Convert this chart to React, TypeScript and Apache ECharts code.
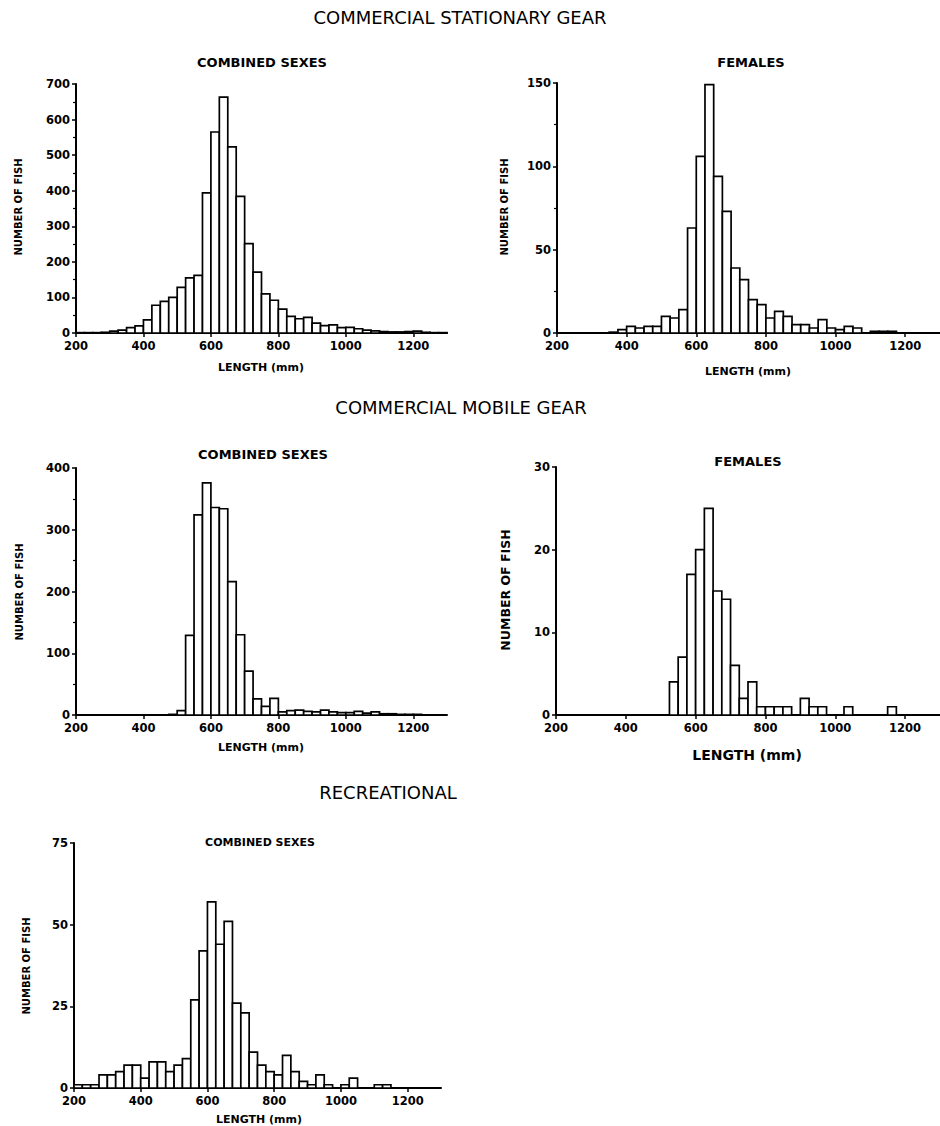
import React, { useEffect, useRef } from "react";
import * as echarts from "echarts";

// Lower bound (mm) of each 25-mm length class
const binStarts = [
  200, 225, 250, 275, 300, 325, 350, 375, 400, 425, 450, 475, 500, 525, 550, 575,
  600, 625, 650, 675, 700, 725, 750, 775, 800, 825, 850, 875, 900, 925, 950, 975,
  1000, 1025, 1050, 1075, 1100, 1125, 1150, 1175, 1200, 1225, 1250, 1275,
];
const binWidth = 25;

const stationaryCombined = [
  1, 1, 1, 2, 5, 8, 15, 20, 37, 78, 89, 100, 128, 155, 162, 394,
  565, 663, 523, 384, 251, 171, 110, 92, 67, 47, 40, 44, 28, 21, 23, 15,
  16, 12, 8, 6, 4, 3, 3, 4, 5, 2, 1, 1,
];
const stationaryFemales = [
  0, 0, 0, 0, 0, 0, 0.5, 2, 4, 3, 4, 4, 10, 9, 14, 63,
  106, 149, 94, 73, 39, 32, 20, 17, 9, 13, 10, 5, 5, 3, 8, 3,
  2, 4, 3, 0, 1, 1, 1, 0, 0, 0, 0, 0,
];
const mobileCombined = [
  0, 0, 0, 0, 0, 0, 0, 0, 0, 0, 0, 1, 7, 129, 324, 376,
  336, 334, 216, 130, 71, 26, 14, 27, 5, 7, 8, 6, 5, 8, 5, 4,
  4, 6, 3, 5, 2, 2, 1, 1, 1, 0, 0, 0,
];
const mobileFemales = [
  0, 0, 0, 0, 0, 0, 0, 0, 0, 0, 0, 0, 0, 4, 7, 17,
  20, 25, 15, 14, 6, 2, 4, 1, 1, 1, 1, 0, 2, 1, 1, 0,
  0, 1, 0, 0, 0, 0, 1, 0, 0, 0, 0, 0,
];
const recreationalCombined = [
  1, 1, 1, 4, 4, 5, 7, 7, 3, 8, 8, 5, 7, 9, 27, 42,
  57, 44, 51, 26, 23, 11, 7, 5, 4, 10, 5, 2, 1, 4, 1, 0,
  1, 3, 0, 0, 1, 1, 0, 0, 0, 0, 0, 0,
];

const yMaxes = [700, 150, 400, 30, 75];
const yIntervals = [100, 50, 100, 10, 25];
const sectionTitles = ["COMMERCIAL STATIONARY GEAR", "COMMERCIAL MOBILE GEAR", "RECREATIONAL"];
const panelTitles = ["COMBINED SEXES", "FEMALES", "COMBINED SEXES", "FEMALES", "COMBINED SEXES"];
const xName = "LENGTH (mm)";
const yName = "NUMBER OF FISH";

const allSeries = [stationaryCombined, stationaryFemales, mobileCombined, mobileFemales, recreationalCombined];

// layout (px)
const grids = [
  { left: 76, top: 84, width: 371, height: 249 },
  { left: 557, top: 83, width: 386, height: 250 },
  { left: 76, top: 468, width: 371, height: 247 },
  { left: 556, top: 467, width: 404, height: 248 },
  { left: 74, top: 843, width: 367, height: 245 },
];
const minorSplits = [2, 2, 2, 0, 0];

const FONT = "'DejaVu Sans', sans-serif";

export default function App() {
  const ref = useRef<HTMLDivElement>(null);
  useEffect(() => {
    if (!ref.current) return;
    const chart = echarts.init(ref.current, null, { renderer: "svg" });

    const xAxis = grids.map((_, i) => ({
      type: "value",
      gridIndex: i,
      min: 200,
      max: 1300,
      interval: 200,
      axisLine: { show: true, onZero: false, lineStyle: { color: "#000", width: 2 } },
      axisTick: { show: true, length: 4, lineStyle: { color: "#000", width: 1.5 } },
      axisLabel: {
        show: true,
        color: "#000",
        fontFamily: FONT,
        fontWeight: "bold",
        fontSize: 11.5,
        margin: 7,
        showMaxLabel: false,
        formatter: (v: number) => (v > 1200 ? "" : String(v)),
      },
      splitLine: { show: false },
    }));

    const yAxis = grids.map((_, i) => ({
      type: "value",
      gridIndex: i,
      min: 0,
      max: yMaxes[i],
      interval: yIntervals[i],
      axisLine: { show: true, lineStyle: { color: "#000", width: 2 } },
      axisTick: { show: true, length: 4, lineStyle: { color: "#000", width: 1.5 } },
      minorTick: {
        show: minorSplits[i] > 0,
        splitNumber: minorSplits[i] || 2,
        length: 3,
        lineStyle: { color: "#000", width: 1.2 },
      },
      axisLabel: {
        show: true,
        color: "#000",
        fontFamily: FONT,
        fontWeight: "bold",
        fontSize: 11.5,
        margin: 6,
      },
      splitLine: { show: false },
    }));

    const series = allSeries.map((vals, i) => ({
      type: "custom",
      xAxisIndex: i,
      yAxisIndex: i,
      encode: { x: [0, 1], y: 2 },
      data: vals.map((v, k) => [binStarts[k], binStarts[k] + binWidth, v]),
      renderItem: (params: any, api: any) => {
        const x0 = api.value(0);
        const x1 = api.value(1);
        const v = api.value(2);
        if (!v) return null;
        const p0 = api.coord([x0, v]);
        const p1 = api.coord([x1, 0]);
        return {
          type: "rect",
          shape: { x: p0[0], y: p0[1], width: p1[0] - p0[0], height: p1[1] - p0[1] },
          style: { fill: "#fff", stroke: "#000", lineWidth: 1.7 },
        };
      },
    }));

    const txt = (text: string, x: number, y: number, size: number, bold: boolean, rot = 0) => ({
      type: "text",
      x,
      y,
      rotation: rot,
      style: {
        text,
        fill: "#000",
        font: `${bold ? "bold " : ""}${size}px ${FONT}`,
        textAlign: "center",
        textVerticalAlign: "middle",
      },
      z: 10,
    });

    const graphic = [
      txt(sectionTitles[0], 460, 17, 18, false),
      txt(sectionTitles[1], 461, 407, 18, false),
      txt(sectionTitles[2], 388, 792, 18, false),
      txt(panelTitles[0], 262, 62, 13, true),
      txt(panelTitles[1], 751, 62, 13, true),
      txt(panelTitles[2], 263, 454, 13, true),
      txt(panelTitles[3], 748, 461, 13, true),
      txt(panelTitles[4], 260, 842, 11, true),
      txt(yName, 18, 207, 10, true, Math.PI / 2),
      txt(yName, 504, 207, 10, true, Math.PI / 2),
      txt(yName, 19, 592, 10, true, Math.PI / 2),
      txt(yName, 505, 590, 12.5, true, Math.PI / 2),
      txt(yName, 26, 966, 10, true, Math.PI / 2),
      txt(xName, 261, 367, 11, true),
      txt(xName, 748, 371, 11, true),
      txt(xName, 261, 747, 11, true),
      txt(xName, 747, 755, 14, true),
      txt(xName, 259, 1119, 11, true),
    ];

    chart.setOption({
      animation: false,
      backgroundColor: "#fff",
      grid: grids.map((g) => ({ ...g, containLabel: false })),
      xAxis,
      yAxis,
      series,
      graphic,
    });
    return () => chart.dispose();
  }, []);
  return (
    <div
      ref={ref}
      style={{ position: "absolute", left: 0, top: 0, width: 940, height: 1126 }}
    />
  );
}
